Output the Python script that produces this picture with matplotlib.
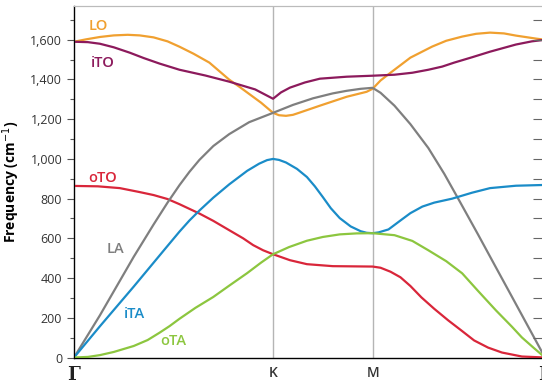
import matplotlib.pyplot as plt
from matplotlib.ticker import MultipleLocator, FuncFormatter

# path coordinate: Gamma=0, K=1, M=1.5, Gamma=2.366
sym_pos = [0.0, 1.0, 1.5, 2.366]
sym_lab = ['Γ', 'K', 'M', 'Γ']

q_LO = [0, 0.06, 0.13, 0.20, 0.27, 0.33, 0.40, 0.47, 0.53, 0.60, 0.68, 0.78, 0.83, 0.94,
        1.0, 1.03, 1.065, 1.10, 1.13, 1.235, 1.37, 1.47, 1.5, 1.54, 1.59, 1.69, 1.80,
        1.87, 1.95, 2.02, 2.09, 2.16, 2.22, 2.32, 2.366]
f_LO = [1590, 1602, 1614, 1622, 1625, 1622, 1612, 1592, 1565, 1530, 1485, 1399, 1364, 1283,
        1232, 1220, 1217, 1222, 1232, 1268, 1313, 1338, 1353, 1395, 1434, 1510, 1566,
        1595, 1616, 1630, 1636, 1632, 1621, 1606, 1600]

q_iTO = [0, 0.07, 0.13, 0.20, 0.28, 0.35, 0.43, 0.53, 0.66, 0.78, 0.91, 1.0, 1.04, 1.085,
         1.16, 1.235, 1.37, 1.5, 1.61, 1.70, 1.78, 1.85, 1.91, 2.0, 2.09, 2.22, 2.30, 2.366]
f_iTO = [1590, 1588, 1580, 1562, 1535, 1508, 1480, 1449, 1420, 1389, 1350, 1303, 1335, 1359,
         1385, 1404, 1414, 1419, 1424, 1434, 1449, 1465, 1485, 1512, 1540, 1576, 1592, 1600]

q_oTO = [0, 0.12, 0.23, 0.33, 0.40, 0.47, 0.53, 0.63, 0.70, 0.78, 0.85, 0.90, 0.95, 1.0,
         1.085, 1.17, 1.30, 1.5, 1.54, 1.59, 1.64, 1.69, 1.745, 1.81, 1.88, 1.95, 2.01,
         2.08, 2.15, 2.25, 2.366]
f_oTO = [864, 862, 853, 833, 818, 798, 772, 725, 688, 641, 600, 566, 540, 520,
         490, 470, 460, 458, 452, 432, 404, 360, 303, 245, 187, 133, 86,
         50, 25, 5, 0]

q_LA = [0, 0.13, 0.30, 0.40, 0.47, 0.53, 0.58, 0.63, 0.70, 0.78, 0.88, 1.0, 1.1, 1.2,
        1.3, 1.37, 1.44, 1.5, 1.54, 1.61, 1.69, 1.78, 1.86, 1.93, 2.03, 2.12, 2.20,
        2.29, 2.366]
f_LA = [0, 212, 507, 670, 780, 868, 935, 995, 1065, 1125, 1185, 1232, 1272, 1305,
        1330, 1343, 1353, 1358, 1333, 1268, 1175, 1055, 925, 800, 619, 453, 306,
        140, 0]

q_iTA = [0, 0.13, 0.30, 0.47, 0.53, 0.58, 0.63, 0.70, 0.78, 0.87, 0.93, 0.97, 1.0, 1.03,
         1.065, 1.12, 1.17, 1.21, 1.25, 1.29, 1.335, 1.39, 1.44, 1.47, 1.5, 1.53, 1.58,
         1.64, 1.69, 1.75, 1.81, 1.90, 2.0, 2.09, 2.22, 2.366]
f_iTA = [0, 157, 357, 562, 634, 690, 740, 805, 872, 940, 976, 994, 1000, 995,
         982, 950, 909, 862, 808, 752, 702, 660, 636, 628, 626, 630, 645,
         690, 727, 760, 780, 800, 830, 853, 865, 869]

q_oTA = [0, 0.07, 0.13, 0.20, 0.30, 0.37, 0.43, 0.48, 0.53, 0.61, 0.70, 0.78, 0.87, 0.94,
         1.0, 1.08, 1.17, 1.25, 1.335, 1.42, 1.5, 1.61, 1.70, 1.78, 1.87, 1.95, 2.03,
         2.12, 2.20, 2.25, 2.31, 2.366]
f_oTA = [0, 3, 12, 28, 58, 88, 125, 158, 195, 250, 305, 362, 425, 478,
         520, 556, 588, 607, 620, 625, 626, 616, 587, 540, 485, 424, 335,
         237, 155, 101, 48, 0]

branches = [
    ('LO', q_LO, f_LO, '#f0a030', (0.12, 1671)),
    ('iTO', q_iTO, f_iTO, '#8c1a5c', (0.146, 1485)),
    ('oTO', q_oTO, f_oTO, '#d9263a', (0.146, 904)),
    ('LA', q_LA, f_LA, '#7f7f7f', (0.206, 545)),
    ('iTA', q_iTA, f_iTA, '#1a8cc8', (0.302, 217)),
    ('oTA', q_oTA, f_oTA, '#8cc63f', (0.497, 81)),
]

plt.rcParams['font.family'] = ['Open Sans', 'DejaVu Sans']

fig = plt.figure(figsize=(5.42, 3.85), dpi=100)
ax = fig.add_axes([0.1365, 0.0714, 0.869, 0.913])

for x in sym_pos[1:3]:
    ax.axvline(x, color='#b5b5b5', lw=1.0, zorder=1)

for name, q, f, col, lpos in branches:
    ax.plot(q, f, color=col, lw=1.6, zorder=3, solid_joinstyle='round')
    ax.text(lpos[0], lpos[1], name, color=col, fontsize=10.5,
            fontweight='semibold', ha='center', va='center')

ax.set_xlim(0, 2.366)
ax.set_ylim(0, 1770)
ax.yaxis.set_major_locator(MultipleLocator(200))
ax.yaxis.set_minor_locator(MultipleLocator(100))
ax.yaxis.set_major_formatter(FuncFormatter(lambda v, p: '{:,.0f}'.format(v)))
ax.tick_params(axis='y', which='major', direction='out', length=5, width=0.8,
               colors='#555555', labelcolor='#333333', labelsize=9)
ax.tick_params(axis='y', which='minor', direction='out', length=3, width=0.8,
               colors='#555555')

# inward ticks on the right edge
ax2 = ax.twinx()
ax2.set_ylim(ax.get_ylim())
ax2.yaxis.set_major_locator(MultipleLocator(100))
ax2.tick_params(axis='y', direction='in', length=9, width=0.8, colors='#666666',
                labelright=False)
ax2.spines['right'].set_color('#bbbbbb')
ax2.spines['top'].set_color('#bbbbbb')

ax.set_xticks(sym_pos)
ax.set_xticklabels(sym_lab)
ax.tick_params(axis='x', length=0, pad=6, labelsize=10, labelcolor='#333333')
for i, t in enumerate(ax.get_xticklabels()):
    if sym_lab[i] == 'Γ':
        t.set_fontfamily('DejaVu Serif')
        t.set_fontsize(13)
        t.set_fontweight('bold')
        t.set_color('#222222')
    else:
        t.set_fontweight('semibold')

ax.set_ylabel('Frequency (cm$^{-1}$)', fontsize=10, fontweight='bold', labelpad=6)

for s in ['left', 'bottom']:
    ax.spines[s].set_color('#444444')
    ax.spines[s].set_linewidth(1.0)
ax.spines['top'].set_color('#bbbbbb')
ax.spines['right'].set_color('#bbbbbb')

fig.savefig('out.png', dpi=100)
